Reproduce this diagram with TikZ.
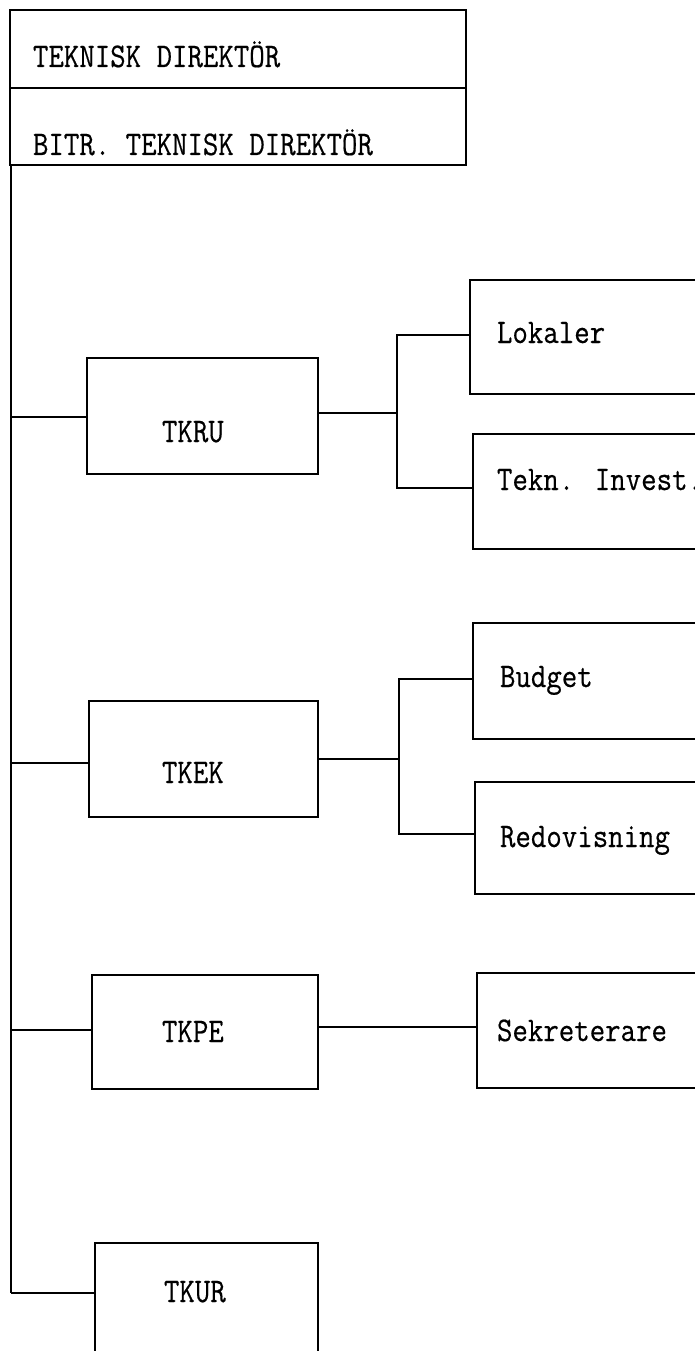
\documentclass[tikz,border=0pt]{standalone}
\usepackage{fontspec}
\newfontfamily\twfont[FakeBold=0.5]{Latin Modern Mono}
\newcommand{\tw}[1]{\scalebox{1}[1.15]{#1}}
\usetikzlibrary{fit}
\tikzset{
  box/.style={draw, line width=1.4pt, inner sep=0pt, outer sep=0pt},
  lbl/.style={inner sep=0pt, outer sep=0pt, anchor=base west, font=\fontsize{30}{36}\selectfont\twfont},
  wire/.style={line width=1.7pt}
}
\begin{document}
\begin{tikzpicture}[x=1pt, y=-1pt]
\useasboundingbox (0,0) rectangle (695,1351);
\clip (0,0) rectangle (695,1351);
% boxes
\node[box, fit={(10,10)(466,88)}] (td) {};
\node[box, fit={(10,88)(466,165)}] (bd) {};
\node[box, fit={(87,358)(318,474)}] (tkru) {};
\node[box, fit={(89,701)(318,817)}] (tkek) {};
\node[box, fit={(92,975)(318,1089)}] (tkpe) {};
\node[box, fit={(95,1243)(318,1370)}] (tkur) {};
\node[box, fit={(470,280)(720,394)}] (lok) {};
\node[box, fit={(473,434)(720,549)}] (tek) {};
\node[box, fit={(473,623)(720,739)}] (bud) {};
\node[box, fit={(475,782)(720,894)}] (red) {};
\node[box, fit={(477,973)(720,1088)}] (sek) {};
% labels
\node[lbl] (tdl) at (33,67) {\tw{TEKNISK DIREKTÖR}};
\node[lbl] (bdl) at (33,155) {\tw{BITR. TEKNISK DIREKTÖR}};
\node[lbl] (tkrul) at (162,442) {\tw{TKRU}};
\node[lbl] (tkekl) at (162,783) {\tw{TKEK}};
\node[lbl] (tkpel) at (162,1042) {\tw{TKPE}};
\node[lbl] (tkurl) at (164,1302) {\tw{TKUR}};
\node[lbl] (lokl) at (497,343) {\tw{Lokaler}};
\node[lbl] (tekl) at (497,490) {\tw{Tekn. Invest.}};
\node[lbl] (budl) at (500,687) {\tw{Budget}};
\node[lbl] (redl) at (500,847) {\tw{Redovisning}};
\node[lbl] (sekl) at (497,1041) {\tw{Sekreterare}};
% trunk
\coordinate (t0) at (11,165);
\coordinate (j1) at (11,417);
\coordinate (j2) at (11,763);
\coordinate (j3) at (11,1030);
\coordinate (j4) at (11,1293);
\draw[wire] (t0) -- (j4);
\draw[wire] (j1) -- (j1 -| tkru.west);
\draw[wire] (j2) -- (j2 -| tkek.west);
\draw[wire] (j3) -- (j3 -| tkpe.west);
\draw[wire] (j4) -- (j4 -| tkur.west);
% TKRU branch
\coordinate (b1) at (397,413);
\coordinate (b1t) at (397,335);
\coordinate (b1b) at (397,488);
\draw[wire] (b1 -| tkru.east) -- (b1);
\draw[wire] (b1t -| lok.west) -- (b1t) -- (b1b) -- (b1b -| tek.west);
% TKEK branch
\coordinate (b2) at (399,759);
\coordinate (b2t) at (399,679);
\coordinate (b2b) at (399,834);
\draw[wire] (b2 -| tkek.east) -- (b2);
\draw[wire] (b2t -| bud.west) -- (b2t) -- (b2b) -- (b2b -| red.west);
% TKPE branch
\coordinate (b3) at (400,1027);
\draw[wire] (b3 -| tkpe.east) -- (b3 -| sek.west);
\end{tikzpicture}
\end{document}
